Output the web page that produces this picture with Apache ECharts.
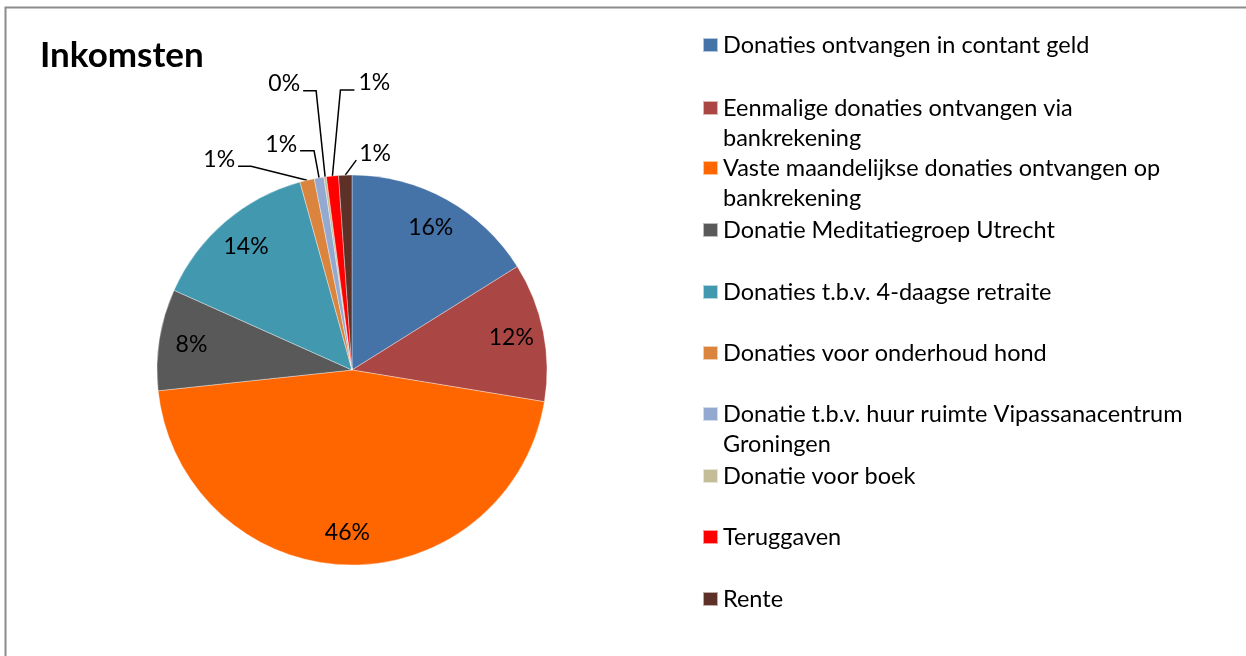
<!DOCTYPE html>
<html>
<head>
<meta charset="utf-8">
<script src="https://cdn.jsdelivr.net/npm/echarts@6/dist/echarts.min.js"></script>
<style>
  html, body { margin: 0; padding: 0; background: #fff; }
  #chart { width: 1246px; height: 656px; }
</style>
</head>
<body>
<div id="chart"></div>
<script>
// categories and shares (percent of total income)
const categories = [
  'Donaties ontvangen in contant geld',
  'Eenmalige donaties ontvangen via bankrekening',
  'Vaste maandelijkse donaties ontvangen op bankrekening',
  'Donatie Meditatiegroep Utrecht',
  'Donaties t.b.v. 4-daagse retraite',
  'Donaties voor onderhoud hond',
  'Donatie t.b.v. huur ruimte Vipassanacentrum Groningen',
  'Donatie voor boek',
  'Teruggaven',
  'Rente'
];
const values = [16.1, 11.5, 45.7, 8.4, 14.0, 1.2, 0.8, 0.2, 1.0, 1.1];
const colors = ['#4572A7', '#AA4643', '#FF6600', '#595959', '#4198AF',
                '#DB843D', '#93A9CF', '#C4BD97', '#FF0000', '#5E3128'];

// legend names that wrap onto a second line (break after this word)
const wrapAfter = { 1: 'via', 2: 'op', 6: 'Vipassanacentrum' };
// first-line centre of each legend entry
const legendRows = [45, 108, 168, 230, 292, 353, 414, 476, 537, 599];

// small slices get an outside label with an elbow leader line (offsets from slice edge)
const leaders = {
  5: { elbow: [-56, -14], end: [-69, -14], label: [-72, -21], align: 'right' },
  6: { elbow: [-5, -27], end: [-19, -27], label: [-22, -33], align: 'right' },
  7: { elbow: [-9, -86], end: [-22, -86], label: [-25, -93], align: 'right' },
  8: { elbow: [8, -86], end: [22, -86], label: [26, -93], align: 'left' },
  9: { elbow: [11, -15], end: [11, -15], label: [14, -22], align: 'left' }
};

const FONT = 'Lato, "Open Sans", sans-serif';
const center = [352, 370];
const R = 195;

const chart = echarts.init(document.getElementById('chart'), null, { renderer: 'canvas' });

const mainData = categories.map((name, i) => ({
  name,
  value: values[i],
  itemStyle: { color: colors[i] },
  label: { show: !!leaders[i] },
  labelLine: { show: !!leaders[i] }
}));

const innerLabelData = categories.map((name, i) => ({
  name,
  value: values[i],
  label: { show: !leaders[i] }
}));

const legends = categories.map((name, i) => {
  const twoLines = wrapAfter[i] != null;
  return {
    orient: 'vertical',
    left: 702,
    top: legendRows[i] - (twoLines ? 45 : 15),
    padding: 0,
    data: [{ name, icon: 'rect' }],
    itemWidth: 15,
    itemHeight: 14,
    selectedMode: false,
    // wrapped names get an empty leading line so the icon lines up with the first text line
    formatter: (n) => {
      if (!twoLines) return n;
      const key = ' ' + wrapAfter[i] + ' ';
      const k = n.indexOf(key) + key.length - 1;
      return ' \n' + n.slice(0, k) + '\n' + n.slice(k + 1);
    },
    textStyle: { fontFamily: FONT, fontSize: 23.5, color: '#000', lineHeight: 30 }
  };
});

chart.setOption({
  animation: false,
  color: colors,
  title: {
    text: 'Inkomsten',
    left: 40, top: 38,
    padding: 0,
    textStyle: { fontFamily: FONT, fontSize: 35, fontWeight: 'bold', color: '#000' }
  },
  graphic: [{
    type: 'rect',
    shape: { x: 5.5, y: 7.5, width: 1300, height: 700 },
    style: { fill: 'none', stroke: '#8c8c8c', lineWidth: 2 },
    silent: true
  }],
  legend: legends,
  series: [
    {
      type: 'pie',
      center, radius: R,
      startAngle: 90, clockwise: true,
      avoidLabelOverlap: false,
      percentPrecision: 0,
      silent: true,
      itemStyle: { borderColor: 'rgba(255,255,255,0.6)', borderWidth: 0.6 },
      label: {
        position: 'outside',
        formatter: '{d}%',
        fontFamily: FONT, fontSize: 23, color: '#000'
      },
      labelLine: { length: 10, length2: 10, lineStyle: { color: '#000', width: 1.5 } },
      labelLayout: (p) => {
        const cfg = leaders[p.dataIndex];
        if (!cfg || !p.labelLinePoints) return {};
        const p0 = p.labelLinePoints[0];
        return {
          x: p0[0] + cfg.label[0],
          y: p0[1] + cfg.label[1],
          align: cfg.align,
          verticalAlign: 'middle',
          labelLinePoints: [
            p0,
            [p0[0] + cfg.elbow[0], p0[1] + cfg.elbow[1]],
            [p0[0] + cfg.end[0], p0[1] + cfg.end[1]]
          ]
        };
      },
      data: mainData
    },
    {
      // transparent ring used only to place the big-slice percentages near the rim
      type: 'pie',
      center, radius: [124, R],
      startAngle: 90, clockwise: true,
      percentPrecision: 0,
      silent: true,
      itemStyle: { color: 'rgba(0,0,0,0)' },
      label: {
        position: 'inside',
        formatter: '{d}%',
        fontFamily: FONT, fontSize: 23, color: '#000'
      },
      labelLine: { show: false },
      data: innerLabelData
    }
  ]
});
</script>
</body>
</html>
